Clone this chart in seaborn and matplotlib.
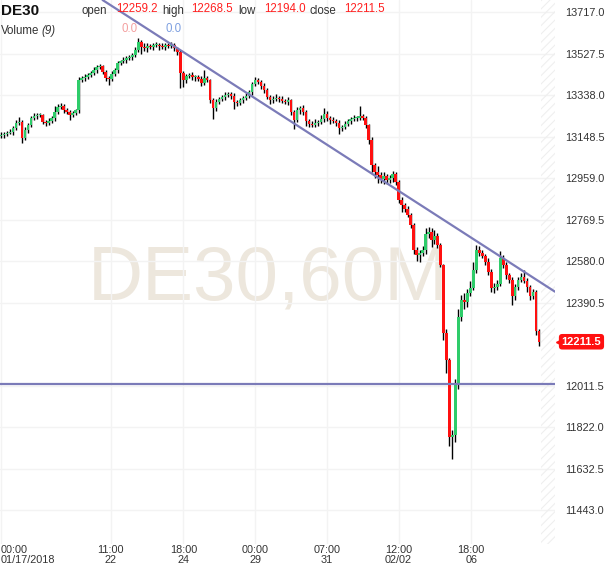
import matplotlib
matplotlib.use('Agg')
import numpy as np
import pandas as pd
import matplotlib.pyplot as plt
import matplotlib.transforms as mtransforms
import seaborn as sns

# --- datos (velas de 2h, DE30) ---
first_open = 13150.0
closes = [
    13155, 13160, 13165, 13170, 13187, 13210, 13215, 13142, 13178, 13201,
    13233, 13242, 13247, 13247, 13215, 13210, 13220, 13233, 13260, 13283,
    13288, 13270, 13260, 13247, 13256, 13270, 13407, 13416, 13420, 13429,
    13438, 13452, 13466, 13470, 13443, 13416, 13411, 13434, 13452, 13484,
    13493, 13498, 13507, 13511, 13520, 13543, 13580, 13557, 13553, 13562,
    13557, 13566, 13566, 13562, 13557, 13566, 13562, 13566, 13553, 13534,
    13438, 13407, 13425, 13429, 13420, 13420, 13411, 13393, 13416, 13407,
    13315, 13279, 13306, 13320, 13329, 13338, 13343, 13334, 13306, 13301,
    13315, 13324, 13334, 13352, 13388, 13407, 13398, 13379, 13361, 13329,
    13315, 13320, 13324, 13320, 13311, 13306, 13315, 13260, 13224, 13270,
    13279, 13260, 13220, 13206, 13201, 13210, 13215, 13229, 13251, 13233,
    13224, 13220, 13210, 13187, 13192, 13206, 13220, 13229, 13233, 13233,
    13242, 13233, 13201, 13133, 13018, 12986, 12973, 12955, 12968, 12950,
    12959, 12977, 12941, 12859, 12836, 12818, 12790, 12744, 12630, 12607,
    12617, 12630, 12703, 12712, 12676, 12694, 12653, 12562, 12251, 12128,
    11776, 11785, 12023, 12324, 12402, 12393, 12434, 12457, 12539, 12630,
    12617, 12603, 12576, 12530, 12457, 12461, 12475, 12594, 12562, 12516,
    12493, 12420, 12461, 12495, 12507, 12490, 12460, 12420, 12440, 12259.2,
    12211.5,
]
wick_hi = [
    12, 10, 8, 15, 10, 14, 25, 10, 12, 8,
    10, 12, 8, 10, 6, 10, 12, 8, 30, 15,
    12, 8, 10, 8, 10, 6, 12, 10, 14, 8,
    10, 12, 8, 10, 6, 8, 10, 12, 8, 10,
    6, 12, 8, 10, 8, 14, 20, 10, 18, 12,
    10, 8, 12, 10, 14, 8, 10, 12, 8, 6,
    8, 12, 10, 8, 14, 10, 8, 12, 35, 10,
    6, 10, 12, 8, 10, 12, 8, 10, 14, 8,
    10, 8, 12, 10, 8, 12, 10, 8, 14, 10,
    8, 12, 20, 10, 14, 8, 12, 6, 8, 14,
    10, 12, 8, 10, 14, 20, 10, 16, 30, 12,
    10, 12, 8, 14, 10, 12, 8, 10, 12, 10,
    45, 10, 8, 6, 12, 10, 30, 14, 20, 10,
    16, 12, 8, 10, 14, 10, 12, 8, 10, 12,
    14, 20, 30, 25, 18, 30, 12, 8, 6, 20,
    10, 25, 20, 35, 25, 30, 20, 30, 35, 25,
    20, 14, 10, 16, 12, 18, 20, 30, 14, 12,
    10, 12, 16, 10, 20, 30, 14, 10, 12, 8,
    9.3,
]
wick_lo = [
    10, 12, 8, 6, 14, 10, 8, 25, 10, 12,
    8, 10, 12, 8, 10, 14, 8, 10, 12, 8,
    10, 12, 8, 25, 10, 8, 12, 10, 14, 8,
    10, 8, 12, 10, 8, 14, 25, 10, 8, 12,
    10, 8, 12, 10, 14, 8, 10, 30, 12, 20,
    10, 14, 8, 20, 10, 12, 8, 10, 14, 12,
    70, 30, 12, 10, 14, 20, 10, 12, 8, 10,
    15, 50, 12, 10, 8, 12, 10, 14, 30, 12,
    10, 14, 8, 10, 12, 8, 10, 14, 12, 10,
    20, 12, 10, 14, 8, 10, 14, 12, 40, 10,
    20, 14, 25, 12, 10, 8, 12, 10, 14, 12,
    20, 10, 14, 25, 12, 10, 8, 12, 10, 12,
    10, 8, 12, 20, 30, 25, 35, 20, 25, 18,
    14, 20, 15, 12, 30, 14, 10, 12, 20, 25,
    30, 14, 18, 20, 30, 16, 14, 10, 30, 60,
    40, 100, 30, 25, 20, 30, 25, 14, 10, 12,
    16, 10, 12, 14, 20, 25, 14, 10, 16, 20,
    14, 40, 20, 14, 10, 12, 20, 18, 14, 15,
    17.5,
]
tick_pos = [0, 36.7, 61, 85, 109, 133, 157.3]
tick_labels = ["00:00\n01/17/2018", "11:00\n22", "18:00\n24", "00:00\n29",
               "07:00\n31", "12:00\n02/02", "18:00\n06"]
price_ticks = [13717.0, 13527.5, 13338.0, 13148.5, 12959.0, 12769.5, 12580.0,
               12390.5, 12011.5, 11822.0, 11632.5, 11443.0]
trend_x = [34, 185.3]
trend_y = [13772, 12440]
support = 12018
last_price = 12211.5

df = pd.DataFrame({"close": closes, "hi_w": wick_hi, "lo_w": wick_lo})
df["open"] = [first_open] + closes[:-1]
df["x"] = np.arange(len(df))
df["high"] = df[["open", "close"]].max(axis=1) + df["hi_w"]
df["low"] = df[["open", "close"]].min(axis=1) - df["lo_w"]
df["up"] = df["close"] >= df["open"]

sns.set_style("white")
plt.rcParams['font.family'] = ['Liberation Sans', 'DejaVu Sans']
plt.rcParams['hatch.linewidth'] = 0.8

fig = plt.figure(figsize=(6.1, 5.68), dpi=100)
ax = fig.add_axes([0, 24 / 568, 555 / 610, 544 / 568])

ax.set_xlim(-0.3, 185.3)
ax.set_ylim(11288, 13772)

# marca de agua
ax.text(89.5, 12405, "DE30,60M", ha="center", va="baseline", fontsize=55,
        color="#ede7dd", zorder=0)

# grilla
for p in price_ticks:
    ax.axhline(p, color="#f3f3f3", lw=1, zorder=0.5)
for t in tick_pos:
    ax.axvline(t, color="#f3f3f3", lw=1, zorder=0.5)

# zona rayada a la derecha
ax.axvspan(180.7, 185.3, facecolor="none", edgecolor="#efefef", hatch="////",
           lw=0, zorder=0.6)

# velas
ax.vlines(df["x"], df["low"], df["high"], color="black", lw=1.0, zorder=2)
body = (df["close"] - df["open"]).abs().clip(lower=4)
bottom = df[["open", "close"]].min(axis=1)
colors = np.where(df["up"], "#2ecc6a", "#ff1010")
ax.bar(df["x"], body, bottom=bottom, width=0.85, color=colors, lw=0, zorder=3)

# lineas
sns.lineplot(x=trend_x, y=trend_y, ax=ax, color="#7b7bb8", lw=1.6, zorder=4)
ax.axhline(support, color="#7b7bb8", lw=1.6, zorder=4)

for s in ax.spines.values():
    s.set_visible(False)

ax.set_xticks(tick_pos)
ax.set_xticklabels(tick_labels, fontsize=7.8, color="#333333", linespacing=0.95)
ax.xaxis.get_ticklabels()[0].set_ha("left")
ax.tick_params(axis="x", length=0, pad=1)

ax.yaxis.tick_right()
ax.set_yticks(price_ticks)
ax.set_yticklabels([f"{p:.1f}" for p in price_ticks], fontsize=7.8, color="#333333")
ax.tick_params(axis="y", length=0, pad=7)
ax.grid(False)

# etiqueta precio actual
tr = mtransforms.blended_transform_factory(ax.transAxes, ax.transData)
ax.text(1.012, last_price, "12211.5", transform=tr, ha="left", va="center",
        fontsize=8, fontweight="bold", color="white", clip_on=False,
        bbox=dict(boxstyle="round,pad=0.25,rounding_size=0.3", fc="#ff1010", ec="none"))
ax.plot([1.007], [last_price], marker="<", ms=5, color="#ff1010",
        transform=tr, clip_on=False)

# encabezado
def ftxt(x, y, s, **kw):
    fig.text(x / 610, 1 - y / 568, s, va="center", ha="left", **kw)

ftxt(1, 11, "DE30", fontsize=11, fontweight="bold", color="#111111")
ftxt(82, 11, "open", fontsize=8.3, color="#333333")
ftxt(116, 9, "12259.2", fontsize=8.3, color="#ff2020")
ftxt(162, 11, "high", fontsize=8.3, color="#333333")
ftxt(191, 9, "12268.5", fontsize=8.3, color="#ff2020")
ftxt(238, 11, "low", fontsize=8.3, color="#333333")
ftxt(264, 9, "12194.0", fontsize=8.3, color="#ff2020")
ftxt(309, 11, "close", fontsize=8.3, color="#333333")
ftxt(344, 9, "12211.5", fontsize=8.3, color="#ff2020")
ftxt(1, 31, "Volume", fontsize=8.3, color="#333333")
ftxt(41, 31, "(9)", fontsize=8.3, color="#333333", style="italic")
ftxt(121, 29, "0.0", fontsize=8.3, color="#f4a0a0")
ftxt(166, 29, "0.0", fontsize=8.3, color="#7d9fe0")

fig.savefig("out.png", dpi=100)
